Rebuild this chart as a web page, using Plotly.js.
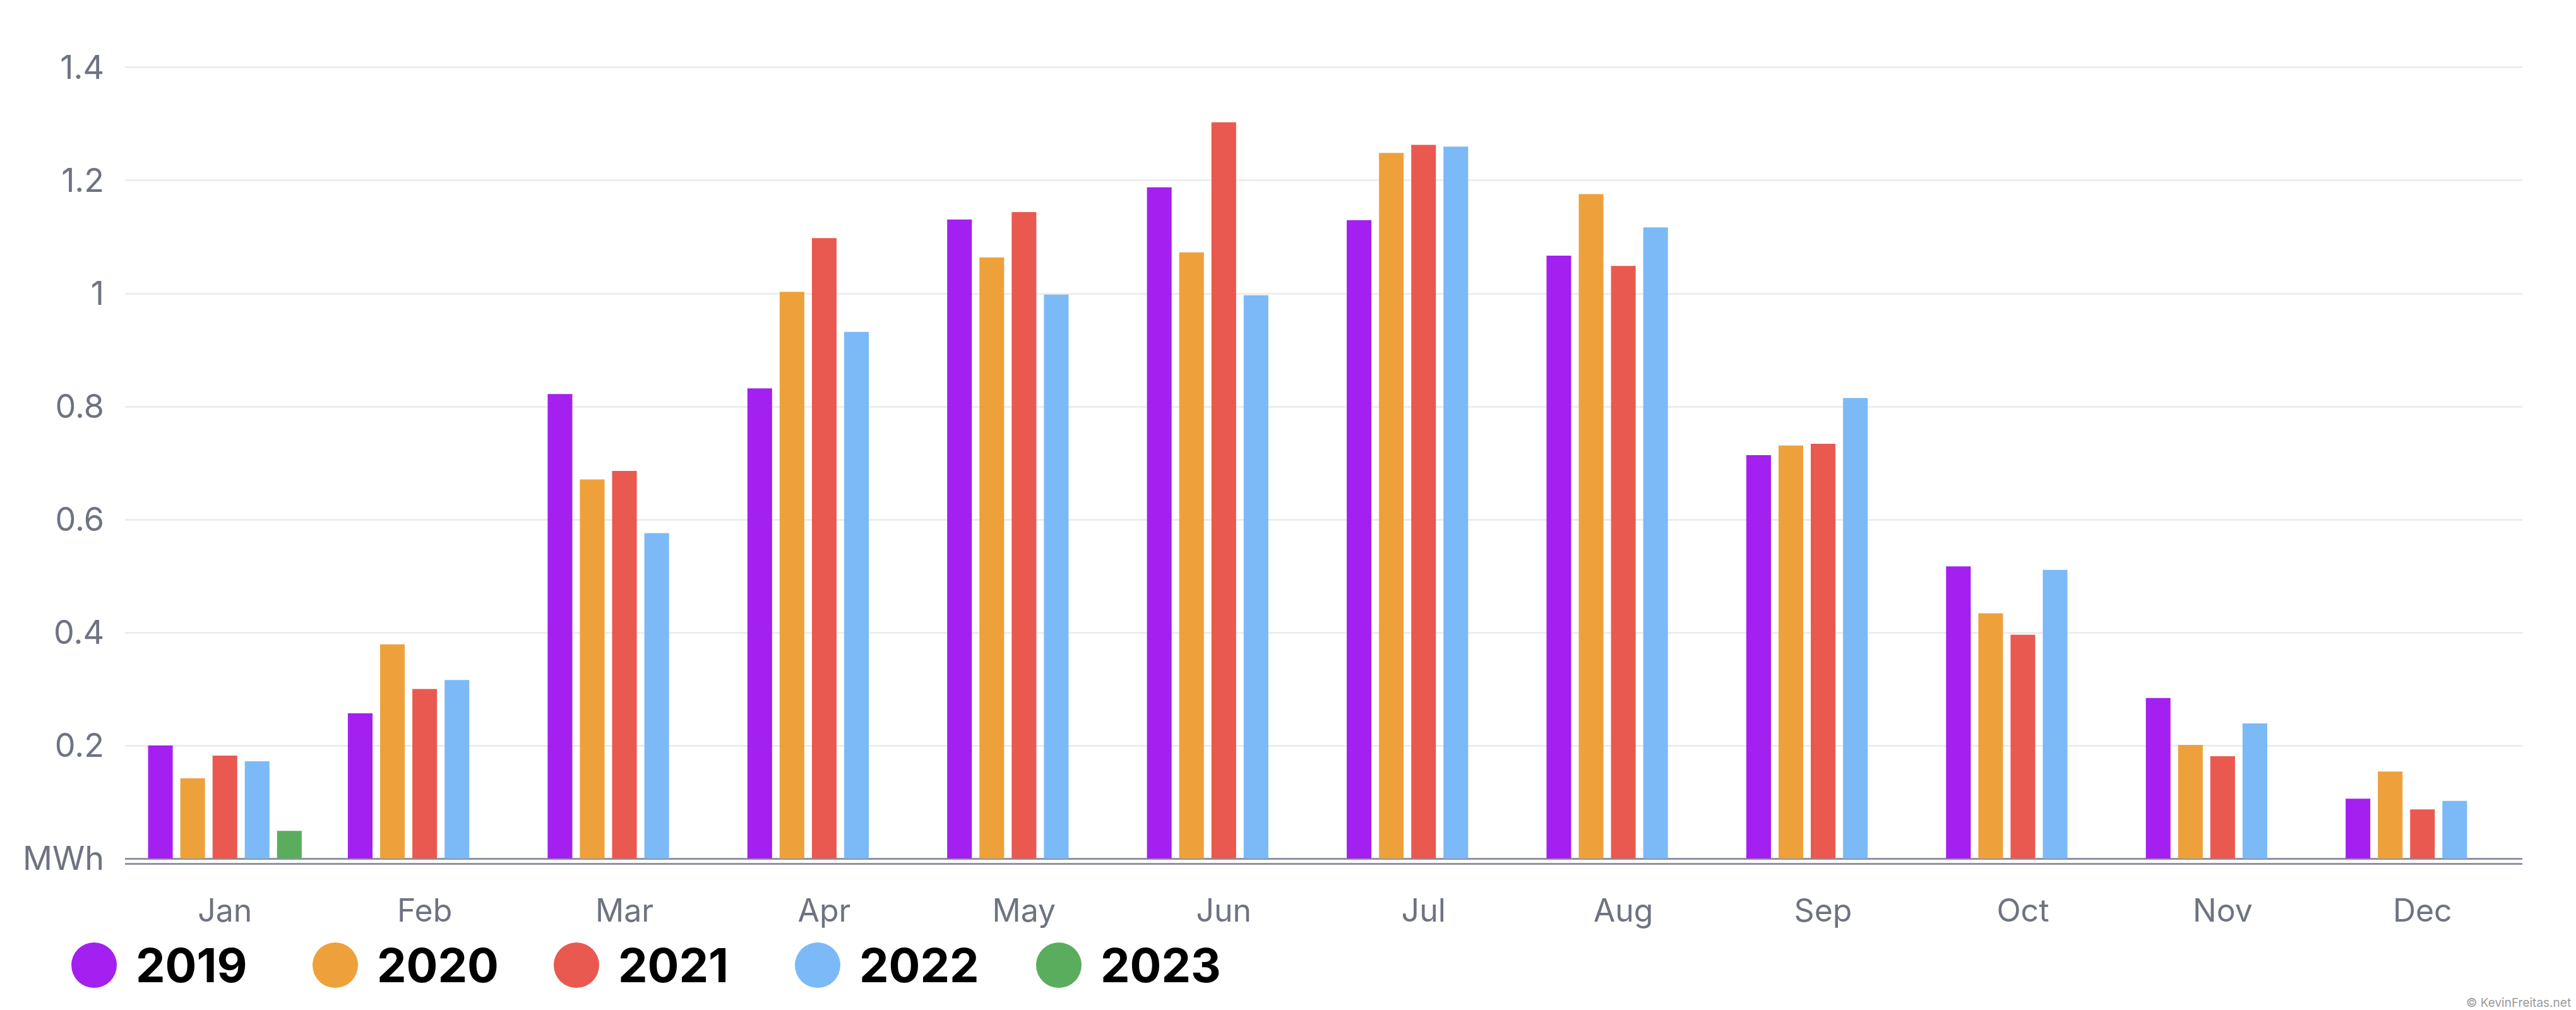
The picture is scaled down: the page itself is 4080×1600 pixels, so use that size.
<!DOCTYPE html>
<html>
<head>
<meta charset="utf-8">
<script src="https://cdn.plot.ly/plotly-3.0.1.min.js"></script>
<style>
  html, body { margin: 0; padding: 0; background: #fff; }
  #chart { width: 4080px; height: 1600px; }
</style>
</head>
<body>
<div id="chart"></div>
<script>
// monthly production, MWh
const months = ['Jan', 'Feb', 'Mar', 'Apr', 'May', 'Jun', 'Jul', 'Aug', 'Sep', 'Oct', 'Nov', 'Dec'];
const years = ['2019', '2020', '2021', '2022', '2023'];

const y2019 = [0.200, 0.257, 0.822, 0.832, 1.131, 1.188, 1.130, 1.067, 0.714, 0.517, 0.284, 0.106];
const y2020 = [0.142, 0.379, 0.671, 1.003, 1.064, 1.073, 1.249, 1.176, 0.731, 0.434, 0.201, 0.154];
const y2021 = [0.182, 0.300, 0.686, 1.098, 1.144, 1.303, 1.263, 1.049, 0.734, 0.396, 0.181, 0.087];
const y2022 = [0.172, 0.316, 0.576, 0.932, 0.998, 0.997, 1.260, 1.117, 0.815, 0.511, 0.239, 0.102];
const y2023 = [0.049];

const tick_vals = [0, 0.2, 0.4, 0.6, 0.8, 1, 1.2, 1.4];
const tick_text = ['MWh', '0.2', '0.4', '0.6', '0.8', '1', '1.2', '1.4'];

const colors = ['#A320F0', '#EEA13B', '#E9594F', '#7CB9F7', '#5BAD5E'];

const W = 4080, H = 1600;
const M = {l: 198, r: 85, t: 60, b: 233};
const FONT = 'Inter, Roboto, "DejaVu Sans", sans-serif';

// pixel -> paper helpers (legend is drawn by hand, the built-in one can't do big dots)
function px_x(px) { return (px - M.l) / (W - M.l - M.r); }
function px_y(py) { return (H - M.b - py) / (H - M.t - M.b); }

let series = [y2019, y2020, y2021, y2022, y2023];
let traces = [];
for (let i = 0; i < series.length; i++) {
    traces.push({
        type: 'bar',
        name: years[i],
        x: months.slice(0, series[i].length),
        y: series[i],
        marker: {color: colors[i], line: {width: 0}},
        hoverinfo: 'skip',
        showlegend: false,
    });
}

let shapes = [];
let annotations = [];
const LEG_Y = 1529;
for (let i = 0; i < years.length; i++) {
    let cx = 149 + i * 382;
    shapes.push({
        type: 'circle',
        xref: 'paper', yref: 'paper',
        xsizemode: 'pixel', ysizemode: 'pixel',
        xanchor: px_x(cx), yanchor: px_y(LEG_Y),
        x0: -36, x1: 36, y0: -36, y1: 36,
        fillcolor: colors[i],
        line: {width: 0},
    });
    annotations.push({
        xref: 'paper', yref: 'paper',
        x: px_x(cx + 64), y: px_y(LEG_Y),
        xanchor: 'left', yanchor: 'middle',
        text: years[i],
        showarrow: false,
        font: {family: FONT, size: 74, color: '#000', weight: 700},
    });
}
annotations.push({
    xref: 'paper', yref: 'paper',
    x: px_x(4074), y: px_y(1588),
    xanchor: 'right', yanchor: 'middle',
    text: '© KevinFreitas.net',
    showarrow: false,
    font: {family: FONT, size: 19, color: '#9a9a9a'},
});

let layout = {
    width: W,
    height: H,
    margin: M,
    paper_bgcolor: '#ffffff',
    plot_bgcolor: '#ffffff',
    barmode: 'group',
    bargap: 0.193,
    bargroupgap: 0.235,
    showlegend: false,
    font: {family: FONT},
    xaxis: {
        type: 'category',
        categoryarray: months,
        showgrid: false,
        showline: true,
        linecolor: '#8E93A3',
        linewidth: 3,
        ticks: '',
        ticklabelstandoff: 30,
        tickfont: {family: FONT, size: 50, color: '#6E7382'},
    },
    yaxis: {
        range: [-0.0078, 1.4525],
        tickvals: tick_vals,
        ticktext: tick_text,
        showgrid: true,
        gridcolor: '#EDEDED',
        gridwidth: 3,
        zeroline: true,
        zerolinecolor: '#8E93A3',
        zerolinewidth: 3,
        showline: false,
        ticks: '',
        ticklabelstandoff: 32,
        tickfont: {family: FONT, size: 52, color: '#6E7382'},
    },
    shapes: shapes,
    annotations: annotations,
};

Plotly.newPlot('chart', traces, layout, {displayModeBar: false, staticPlot: true});
</script>
</body>
</html>
